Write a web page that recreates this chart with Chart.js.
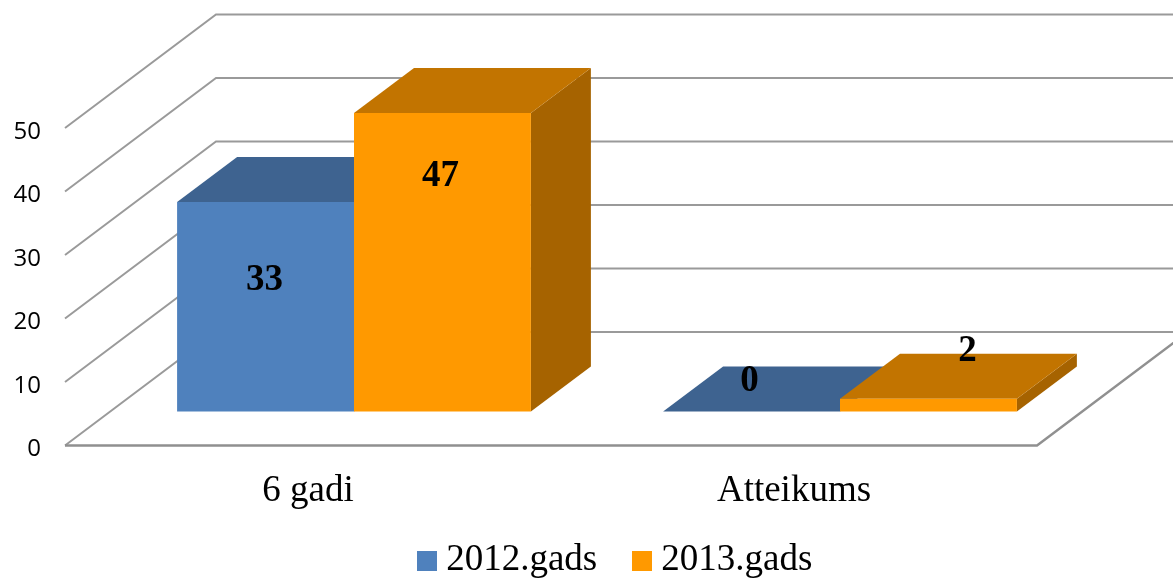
<!DOCTYPE html>
<html><head><meta charset="utf-8">
<script src="https://cdn.jsdelivr.net/npm/chart.js@4"></script>
<style>html,body{margin:0;padding:0;background:#fff;overflow:hidden}#w{width:1173px;height:578px;position:relative}</style>
</head><body><div id="w"><canvas id="c"></canvas></div>
<script>
const categories = ['6 gadi', 'Atteikums'];
const series2012 = [33, 0];
const series2013 = [47, 2];
const yTicks = [0, 10, 20, 30, 40, 50];

const SERIF = '"Liberation Serif"';
const GRID = '#9a9a9a';
const WALL = {dx: 151, dy: -113.5};   // depth of the floor
const BAR_FRONT = {dx: 46, dy: -34}; // where the bar's front sits in the depth
const BAR_DEPTH = {dx: 60, dy: -45};
const shades = [
  {top: '#3e6390', side: '#34557c'},
  {top: '#c27400', side: '#a66300'}
];
const labelNudge = [
  [{x: -1, y: -26}, {x: -2, y: -30}],
  [{x: -2, y: -86}, {x: 39, y: -53.5}]
];
const LEGEND_SHIFT = {x: 101, y: -33};

function swatch(color) {
  const c = document.createElement('canvas');
  c.width = 20; c.height = 20;
  const g = c.getContext('2d');
  g.fillStyle = color;
  g.fillRect(0, 0, 20, 20);
  return c;
}

const threeD = {
  id: 'threeD',
  afterLayout(chart) {
    const lg = chart.legend;
    lg.left += LEGEND_SHIFT.x;
    lg.right += LEGEND_SHIFT.x;
    lg.top += LEGEND_SHIFT.y;
  },
  beforeDatasetsDraw(chart) {
    const {ctx, scales: {x, y}} = chart;
    const l = x.left, r = x.right;
    ctx.save();
    ctx.strokeStyle = GRID;
    ctx.lineWidth = 2;
    yTicks.forEach(v => {
      const py = y.getPixelForValue(v);
      ctx.beginPath();
      ctx.moveTo(l, py);
      ctx.lineTo(l + WALL.dx, py + WALL.dy);
      ctx.lineTo(chart.width + 40, py + WALL.dy);
      ctx.stroke();
    });
    const p0 = y.getPixelForValue(0);
    ctx.lineWidth = 2.4;
    ctx.strokeStyle = '#909090';
    ctx.beginPath();
    ctx.moveTo(l, p0);
    ctx.lineTo(r, p0);
    ctx.lineTo(r + WALL.dx, p0 + WALL.dy);
    ctx.stroke();

    // tops and sides, earlier series first; the fronts come from the library afterwards
    ctx.translate(BAR_FRONT.dx, BAR_FRONT.dy);
    chart.data.datasets.forEach((ds, i) => {
      const s = shades[i];
      chart.getDatasetMeta(i).data.forEach(b => {
        const x0 = b.x - b.width / 2, x1 = b.x + b.width / 2;
        const d = BAR_DEPTH;
        ctx.fillStyle = s.side;
        ctx.beginPath();
        ctx.moveTo(x1, b.y);
        ctx.lineTo(x1 + d.dx, b.y + d.dy);
        ctx.lineTo(x1 + d.dx, b.base + d.dy);
        ctx.lineTo(x1, b.base);
        ctx.closePath();
        ctx.fill();
        ctx.fillStyle = s.top;
        ctx.beginPath();
        ctx.moveTo(x0, b.y);
        ctx.lineTo(x0 + d.dx, b.y + d.dy);
        ctx.lineTo(x1 + d.dx, b.y + d.dy);
        ctx.lineTo(x1, b.y);
        ctx.closePath();
        ctx.fill();
      });
    });
    ctx.restore();
  },
  beforeDatasetDraw(chart) {
    chart.ctx.save();
    chart.ctx.translate(BAR_FRONT.dx, BAR_FRONT.dy);
  },
  afterDatasetDraw(chart) {
    chart.ctx.restore();
  },
  afterDatasetsDraw(chart) {
    const {ctx} = chart;
    ctx.save();
    ctx.fillStyle = '#000';
    ctx.font = 'bold 37px ' + SERIF;
    ctx.textAlign = 'center';
    ctx.textBaseline = 'middle';
    chart.data.datasets.forEach((ds, i) => {
      chart.getDatasetMeta(i).data.forEach((b, j) => {
        const n = labelNudge[i][j];
        const cy = (b.y + b.base) / 2;
        ctx.fillText(String(ds.data[j]), b.x + BAR_FRONT.dx + n.x, cy + BAR_FRONT.dy + n.y);
      });
    });
    ctx.restore();
  }
};

new Chart(document.getElementById('c'), {
  type: 'bar',
  plugins: [threeD],
  data: {
    labels: categories,
    datasets: [
      {label: '2012.gads', data: series2012, backgroundColor: '#4f81bd', pointStyle: swatch('#4f81bd')},
      {label: '2013.gads', data: series2013, backgroundColor: '#ff9900', pointStyle: swatch('#ff9900')}
    ]
  },
  options: {
    responsive: true,
    maintainAspectRatio: false,
    animation: false,
    clip: false,
    layout: {padding: {top: 128, right: 136, left: 0, bottom: 0}},
    datasets: {bar: {barPercentage: 1, categoryPercentage: 0.728}},
    scales: {
      x: {
        grid: {display: false},
        border: {display: false},
        ticks: {color: '#000', font: {family: SERIF, size: 37}, padding: 16, maxRotation: 0},
        afterFit(s) { s.height = 85; }
      },
      y: {
        min: 0, max: 50,
        afterBuildTicks(s) { s.ticks = yTicks.map(v => ({value: v})); },
        grid: {display: false},
        border: {display: false},
        ticks: {color: '#000', font: {family: '"Open Sans"', size: 24}, padding: 16, labelOffset: 4},
        afterFit(s) { s.width = 65; }
      }
    },
    plugins: {
      tooltip: {enabled: false},
      legend: {
        position: 'bottom',
        maxHeight: 47.5,
        labels: {
          color: '#000',
          font: {family: SERIF, size: 37},
          usePointStyle: true,
          pointStyleWidth: 1,
          padding: 44.5
        }
      }
    }
  }
});
</script></body></html>
